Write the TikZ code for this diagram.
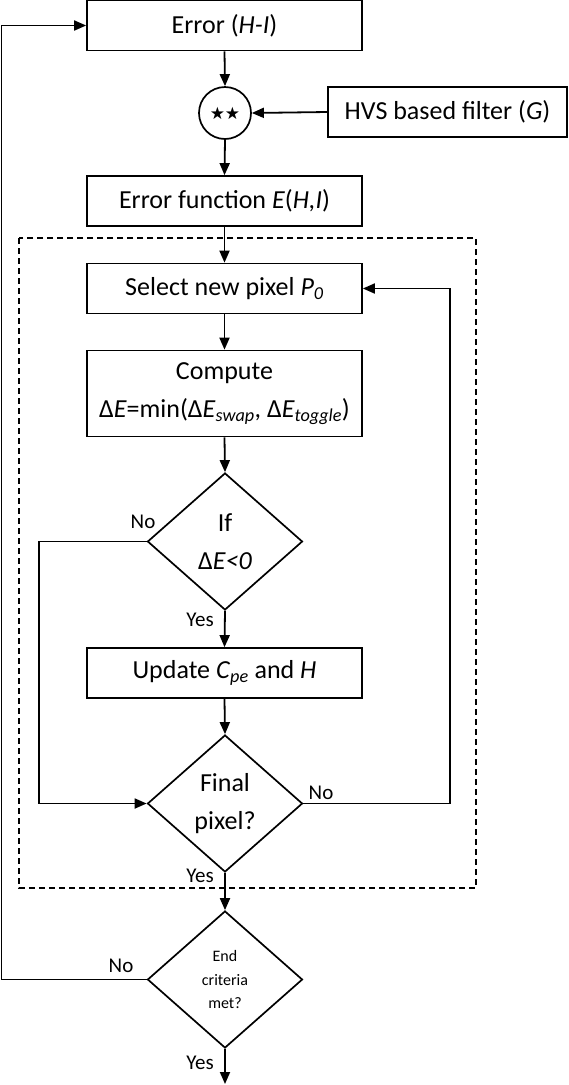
\documentclass[tikz,border=0pt]{standalone}
\usepackage{fontspec}
\setmainfont{Carlito}
\newfontfamily\dejavu{DejaVu Sans}
\usetikzlibrary{shapes.geometric,arrows.meta}
\begin{document}
\begin{tikzpicture}[x=1pt,y=-1pt,
  every node/.style={font=\fontsize{26}{38}\selectfont},
  procbox/.style={draw,line width=1.7pt,rectangle,minimum width=275pt,minimum height=50pt,inner sep=0pt,align=center},
  decbox/.style={draw,line width=1.7pt,diamond,aspect=1.131,minimum width=155pt,minimum height=137pt,inner sep=0pt,align=center},
  convnode/.style={draw,line width=1.7pt,circle,minimum size=52pt,inner sep=0pt},
  arr/.style={line width=1.8pt,-{Triangle[length=12pt,width=10pt]}},
  lbl/.style={font=\fontsize{21}{24}\selectfont,inner sep=0pt},
  frame/.style={line width=1.8pt,dash pattern=on 6pt off 4pt}
]
\useasboundingbox (0,0) rectangle (568,1085);

\node[procbox] (err) at (224.5,25.5) {Error (\textit{H-I})};
\node[convnode] (conv) at (225,113) {\dejavu\fontsize{17}{17}\selectfont ★★};
\node[procbox,minimum width=239pt] (hvs) at (447.5,112) {HVS based filter (\textit{G})};
\node[procbox] (ef) at (224.5,201) {Error function \textit{E}(\textit{H,I})};
\node[procbox] (sel) at (224.5,288.5) {Select new pixel \textit{P}\textsubscript{\textit{0}}};
\node[procbox,minimum height=86pt] (comp) at (224.5,393.5) {Compute\\Δ\textit{E}=min(Δ\textit{E}\textsubscript{\textit{swap}}, Δ\textit{E}\textsubscript{\textit{toggle}})};
\node[decbox] (d1) at (225,541.5) {If\\Δ\textit{E<0}};
\node[procbox] (upd) at (224.5,673) {Update \textit{C}\textsubscript{\textit{pe}} and \textit{H}};
\node[decbox] (d2) at (225,803.5) {Final\\pixel?};
\node[decbox,font=\fontsize{16}{23.5}\selectfont] (d3) at (225,979.5) {End\\criteria\\met?};

\draw[frame] (19,238) rectangle (476,888);

\coordinate (nox) at (39,0);
\coordinate (rx) at (450,0);
\coordinate (lx) at (1.5,0);
\coordinate (endpt) at (225,1084);

\draw[arr] (err.south) -- (conv.north);
\draw[arr] (hvs.west) -- (conv.east);
\draw[arr] (conv.south) -- (ef.north);
\draw[arr] (ef.south) -- (sel.north);
\draw[arr] (sel.south) -- (comp.north);
\draw[arr] (comp.south) -- (d1.north);
\draw[arr] (d1.south) -- (upd.north);
\draw[arr] (upd.south) -- (d2.north);
\draw[arr] (d1.west) -- (d1.west -| nox) -- (d2.west -| nox) -- (d2.west);
\draw[arr] (d2.east) -- (d2.east -| rx) -- (sel.east -| rx) -- (sel.east);
\draw[arr] (d2.south) -- (d3.north);
\draw[arr] (d3.west) -- (d3.west -| lx) -- (err.west -| lx) -- (err.west);
\draw[arr] (d3.south) -- (endpt);

\node[lbl] (no1) at (143,522) {No};
\node[lbl] (yes1) at (200,620) {Yes};
\node[lbl] (no2) at (321,793) {No};
\node[lbl] (yes2) at (200,876) {Yes};
\node[lbl] (no3) at (121,966) {No};
\node[lbl] (yes3) at (200,1063) {Yes};
\end{tikzpicture}
\end{document}
